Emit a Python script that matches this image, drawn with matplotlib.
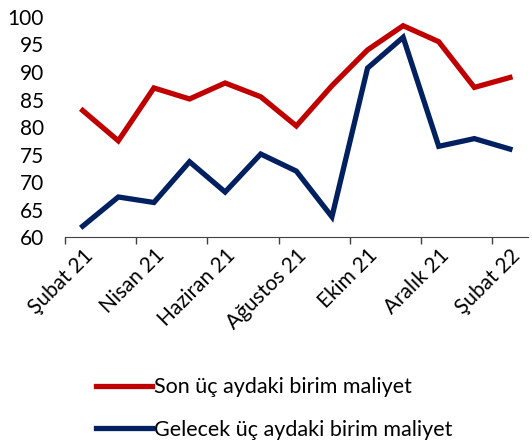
import matplotlib.pyplot as plt

plt.rcParams['font.family'] = ['Lato', 'DejaVu Sans']

months = ['Şubat 21', 'Mart 21', 'Nisan 21', 'Mayıs 21', 'Haziran 21', 'Temmuz 21',
          'Ağustos 21', 'Eylül 21', 'Ekim 21', 'Kasım 21', 'Aralık 21', 'Ocak 22', 'Şubat 22']
son_uc_ay = [83, 77.5, 87.1, 85.1, 88, 85.5, 80.2, 87.5, 94, 98.4, 95.5, 87.2, 89]
gelecek_uc_ay = [62, 67.3, 66.3, 73.7, 68.2, 75.1, 72, 63.7, 90.7, 96.3, 76.5, 77.9, 76]

fig = plt.figure(figsize=(5.32, 4.45), dpi=100)
ax = fig.add_axes([0.122, 0.467, 0.870, 0.495])

x = list(range(len(months)))
ax.plot(x, son_uc_ay, color='#C00000', lw=3.8, solid_joinstyle='miter',
        label='Son üç aydaki birim maliyet')
ax.plot(x, gelecek_uc_ay, color='#002060', lw=3.8, solid_joinstyle='miter',
        label='Gelecek üç aydaki birim maliyet')

ax.set_ylim(60, 100)
ax.set_yticks(range(60, 101, 5))
ax.set_xlim(-0.5, len(months) - 0.5)

# tick marks between categories, labels on every second month
ax.set_xticks([i - 0.5 for i in range(0, len(months), 2)])
ax.set_xticklabels([])
ax.set_xticks(x[::2], minor=True)
ax.set_xticklabels(months[::2], minor=True, rotation=45, ha='right',
                   rotation_mode='anchor', fontsize=15)
ax.tick_params(axis='x', which='major', length=5, width=1, color='#404040')
ax.tick_params(axis='x', which='minor', length=0, pad=6)
ax.tick_params(axis='y', length=0, labelsize=15, pad=15)

for s in ['top', 'right', 'left']:
    ax.spines[s].set_visible(False)
ax.spines['bottom'].set_color('#404040')

fig.legend(loc='upper left', bbox_to_anchor=(0.18, 0.152), frameon=False,
           fontsize=15.5, handlelength=2.6, handletextpad=0.12, labelspacing=1.05,
           borderpad=0, borderaxespad=0)

fig.savefig('out.png', dpi=100)
